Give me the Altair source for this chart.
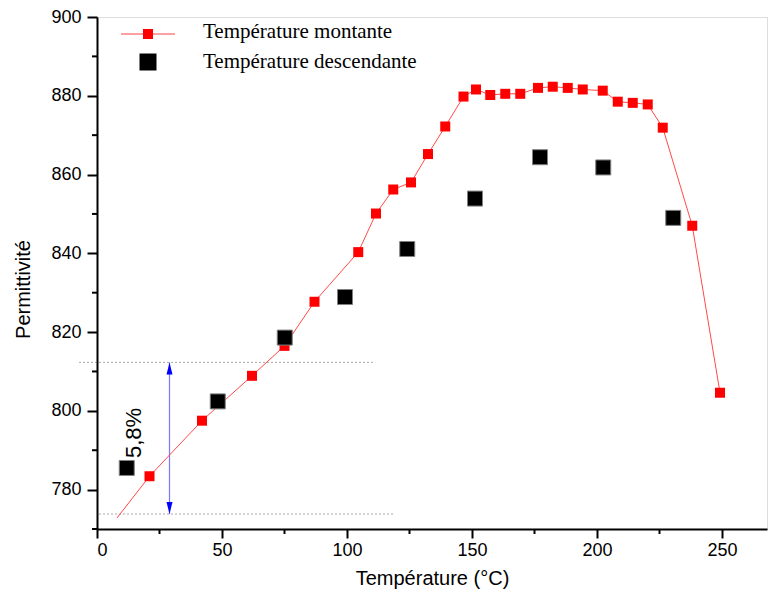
import altair as alt
import pandas as pd

# ---- data ----
line_start_x = [8.0]
line_start_y = [772.8]

red_x = [21, 42, 62, 75, 87, 104.5, 111.6, 118.5, 125.6, 132.4, 139.3, 146.6, 151.6,
         157.3, 163.3, 169.3, 176.4, 182.3, 188.3, 194.3, 202.3, 208.3, 214.3, 220.3,
         226.3, 238.1, 249.2]
red_y = [783.4, 797.5, 808.9, 816.5, 827.7, 840.3, 850.1, 856.2, 858.0, 865.2, 872.2,
         879.8, 881.6, 880.2, 880.5, 880.5, 882.0, 882.3, 882.0, 881.6, 881.3, 878.5,
         878.2, 877.8, 871.9, 847.0, 804.6]

black_x = [11.9, 48.3, 75.1, 99.2, 124.1, 151.2, 177.2, 202.5, 230.5]
black_y = [785.5, 802.4, 818.6, 828.9, 841.1, 853.9, 864.4, 861.8, 849.0]

# dotted reference lines (x start, x end, y)
dotted_x1 = [-7, 1]
dotted_x2 = [111, 119]
dotted_y = [812.3, 773.8]

# 5,8 % arrow
arrow_x = [29]
arrow_top = [812.3]
arrow_bot = [773.8]
label_text = ["5,8%"]
label_x = [14.8]
label_y = [794.4]

x_major = [0, 50, 100, 150, 200, 250]
x_minor = [25, 75, 125, 175, 225]
y_major = [780, 800, 820, 840, 860, 880, 900]
y_minor = [770, 790, 810, 830, 850, 870, 890]

legend_labels = ["Température montante", "Température descendante"]

W, H = 670, 512
XMIN, XMAX = 0, 268
YMIN, YMAX = 770, 900

line_df = pd.DataFrame({"T": line_start_x + red_x, "P": line_start_y + red_y})
red_df = pd.DataFrame({"T": red_x, "P": red_y})
black_df = pd.DataFrame({"T": black_x, "P": black_y})
dot_df = pd.DataFrame({"x1": dotted_x1, "x2": dotted_x2, "y": dotted_y})
arr_df = pd.DataFrame({"x": arrow_x, "top": arrow_top, "bot": arrow_bot})
lab_df = pd.DataFrame({"t": label_text, "x": label_x, "y": label_y})

xs = alt.Scale(domain=[XMIN, XMAX], nice=False, zero=False)
ys = alt.Scale(domain=[YMIN, YMAX], nice=False, zero=False)

xaxis = alt.Axis(values=x_major, title="Température (°C)", grid=False,
                 labelFont="Liberation Sans", labelFontSize=18, labelColor="black",
                 labelPadding=3, tickSize=9, tickWidth=2, tickColor="black",
                 domainWidth=2, domainColor="black",
                 titleFont="Liberation Sans", titleFontSize=20, titleFontWeight="normal",
                 titleColor="black", titleY=49, titleBaseline="middle")
yaxis = alt.Axis(values=y_major, title="Permittivité", grid=False,
                 labelFont="Liberation Sans", labelFontSize=18, labelColor="black",
                 labelPadding=6, tickSize=10, tickWidth=2, tickColor="black",
                 domainWidth=2, domainColor="black",
                 titleFont="Liberation Sans", titleFontSize=20, titleFontWeight="normal",
                 titleColor="black", titleX=-64, titleY=272)

line = alt.Chart(line_df).mark_line(color="#ff4a4a", strokeWidth=1).encode(
    x=alt.X("T:Q", scale=xs, axis=xaxis),
    y=alt.Y("P:Q", scale=ys, axis=yaxis),
    order="T:Q",
)
red = alt.Chart(red_df).mark_point(shape="square", filled=True, size=100,
                                   color="#ff0000", opacity=1).encode(
    x=alt.X("T:Q", scale=xs), y=alt.Y("P:Q", scale=ys))
black = alt.Chart(black_df).mark_point(shape="square", filled=True, size=225,
                                       fill="black", stroke="#808080", strokeWidth=1,
                                       opacity=1).encode(
    x=alt.X("T:Q", scale=xs), y=alt.Y("P:Q", scale=ys))

dots = alt.Chart(dot_df).mark_rule(color="#555555", strokeWidth=1,
                                   strokeDash=[1, 3]).encode(
    x=alt.X("x1:Q", scale=xs), x2="x2:Q", y=alt.Y("y:Q", scale=ys))

arrow_line = alt.Chart(arr_df).mark_rule(color="#7777ff", strokeWidth=1.2).encode(
    x=alt.X("x:Q", scale=xs), y=alt.Y("top:Q", scale=ys), y2="bot:Q")
head_up = alt.Chart(arr_df).mark_point(shape="M0,-1L0.5,1L-0.5,1Z", size=144,
                                       filled=True, color="#0000ff", opacity=1,
                                       yOffset=6).encode(
    x=alt.X("x:Q", scale=xs), y=alt.Y("top:Q", scale=ys))
head_dn = alt.Chart(arr_df).mark_point(shape="M0,1L0.5,-1L-0.5,-1Z", size=144,
                                       filled=True, color="#0000ff", opacity=1,
                                       yOffset=-6).encode(
    x=alt.X("x:Q", scale=xs), y=alt.Y("bot:Q", scale=ys))

label = alt.Chart(lab_df).mark_text(angle=270, font="Liberation Sans", fontSize=22,
                                    color="black", align="center",
                                    baseline="middle").encode(
    x=alt.X("x:Q", scale=xs), y=alt.Y("y:Q", scale=ys), text="t:N")

minor_x = alt.Chart(pd.DataFrame({"v": x_minor})).mark_rule(
    color="black", strokeWidth=2).encode(
    x=alt.X("v:Q", scale=xs), y=alt.value(H), y2=alt.value(H + 5))
minor_y = alt.Chart(pd.DataFrame({"v": y_minor})).mark_rule(
    color="black", strokeWidth=2).encode(
    y=alt.Y("v:Q", scale=ys), x=alt.value(0), x2=alt.value(-5))

# legend (drawn by hand)
leg_df = pd.DataFrame({"label": legend_labels})
leg_line = alt.Chart(leg_df.head(1)).mark_rule(color="#ff8080", strokeWidth=1.5).encode(
    x=alt.value(24), x2=alt.value(78), y=alt.value(17))
leg_red = alt.Chart(leg_df.head(1)).mark_point(shape="square", filled=True, size=100,
                                               color="#ff0000", opacity=1).encode(
    x=alt.value(51), y=alt.value(17))
leg_black = alt.Chart(leg_df.tail(1)).mark_point(shape="square", filled=True, size=289,
                                                 color="black", opacity=1).encode(
    x=alt.value(51), y=alt.value(45))
leg_t1 = alt.Chart(leg_df.head(1)).mark_text(font="Liberation Serif", fontSize=21,
                                             align="left", baseline="middle",
                                             color="black").encode(
    x=alt.value(106), y=alt.value(15), text="label:N")
leg_t2 = alt.Chart(leg_df.tail(1)).mark_text(font="Liberation Serif", fontSize=21,
                                             align="left", baseline="middle",
                                             color="black").encode(
    x=alt.value(106), y=alt.value(45), text="label:N")

chart = alt.layer(
    dots, arrow_line, head_up, head_dn, line, red, black, label,
    minor_x, minor_y, leg_line, leg_red, leg_black, leg_t1, leg_t2
).properties(
    width=W, height=H,
    padding={"left": 89, "top": 9, "right": 1, "bottom": 71},
    autosize=alt.AutoSizeParams(type="none"),
).configure_view(stroke=None).configure(background="white")

chart.save("out.html", embed_options={"renderer": "svg", "actions": False})
